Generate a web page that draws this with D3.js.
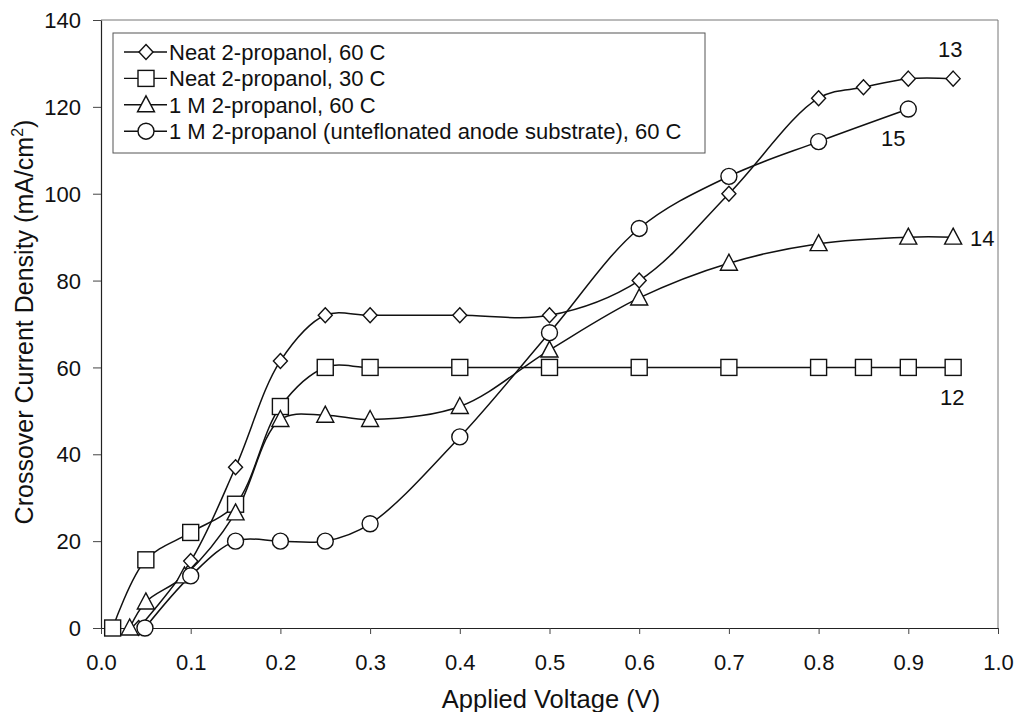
<!DOCTYPE html>
<html>
<head>
<meta charset="utf-8">
<script src="https://cdn.jsdelivr.net/npm/d3@7"></script>
<style>
  body { margin: 0; background: #fff; }
  svg { font-family: "Liberation Sans", Arial, sans-serif; }
</style>
</head>
<body>
<div id="chart"></div>
<script>
// series values
const neat60 = [[0.042, 0], [0.1, 15.4], [0.15, 37], [0.2, 61.5], [0.25, 72], [0.3, 72], [0.4, 72], [0.5, 72],
  [0.6, 80], [0.7, 100], [0.8, 122], [0.85, 124.5], [0.9, 126.5], [0.95, 126.5]];
const neat30 = [[0.013, 0], [0.05, 15.7], [0.1, 22], [0.15, 28.5], [0.2, 51], [0.25, 60], [0.3, 60], [0.4, 60],
  [0.5, 60], [0.6, 60], [0.7, 60], [0.8, 60], [0.85, 60], [0.9, 60], [0.95, 60]];
const oneM60 = [[0.032, 0], [0.05, 6], [0.093, 12], [0.15, 26.5], [0.2, 48], [0.25, 49], [0.3, 48], [0.4, 51],
  [0.5, 64], [0.6, 76], [0.7, 84], [0.8, 88.5], [0.9, 90], [0.95, 90]];
const unteflon = [[0.049, 0], [0.1, 12], [0.15, 20], [0.2, 20], [0.25, 20], [0.3, 24], [0.4, 44], [0.5, 68],
  [0.6, 92], [0.7, 104], [0.8, 112], [0.9, 119.5]];

const seriesNames = ["Neat 2-propanol, 60 C", "Neat 2-propanol, 30 C", "1 M 2-propanol, 60 C",
  "1 M 2-propanol (unteflonated anode substrate), 60 C"];
const seriesMarkers = ["diamond", "square", "triangle", "circle"];
const curveLabels = ["13", "12", "14", "15"];
const xTicks = [0, 0.1, 0.2, 0.3, 0.4, 0.5, 0.6, 0.7, 0.8, 0.9, 1.0];
const yTicks = [0, 20, 40, 60, 80, 100, 120, 140];

const series = [neat60, neat30, oneM60, unteflon];

const W = 1020, H = 712;
const plot = { l: 101, r: 998, t: 20, b: 628 };

const x = d3.scaleLinear().domain([0, 1]).range([plot.l, plot.r]);
const y = d3.scaleLinear().domain([0, 140]).range([plot.b, plot.t]);

const svg = d3.select("#chart").append("svg")
  .attr("width", W).attr("height", H);

// frame (top and right)
svg.append("path")
  .attr("d", `M${plot.l},${plot.t}H${plot.r}V${plot.b}`)
  .attr("fill", "none").attr("stroke", "#777").attr("stroke-width", 1);

// axes
const xAxis = d3.axisBottom(x).tickValues(xTicks).tickFormat(d3.format(".1f")).tickSize(6).tickSizeOuter(0);
const yAxis = d3.axisLeft(y).tickValues(yTicks).tickFormat(d3.format("d")).tickSize(8).tickSizeOuter(0);

const gx = svg.append("g").attr("transform", `translate(0,${plot.b})`).call(xAxis);
const gy = svg.append("g").attr("transform", `translate(${plot.l},0)`).call(yAxis);
[gx, gy].forEach(g => {
  g.select(".domain").attr("stroke", "#222").attr("stroke-width", 1.2);
  g.selectAll(".tick line").attr("stroke", "#444");
  g.selectAll(".tick text").attr("font-size", 22).attr("fill", "#111")
    .attr("font-family", "Liberation Sans, Arial, sans-serif");
});
gx.selectAll(".tick text").attr("y", 34).attr("dy", "0.35em");
gy.selectAll(".tick text").attr("x", -20).attr("dy", "0.35em");

// axis titles
svg.append("text")
  .attr("x", 551).attr("y", 708)
  .attr("text-anchor", "middle").attr("font-size", 25.5).attr("fill", "#111")
  .text("Applied Voltage (V)");

const yt = svg.append("text")
  .attr("transform", `translate(33,322) rotate(-90)`)
  .attr("text-anchor", "middle").attr("font-size", 25).attr("fill", "#111");
yt.append("tspan").text("Crossover Current Density (mA/cm");
yt.append("tspan").attr("font-size", 16).attr("dy", -10).text("2");
yt.append("tspan").attr("dy", 10).text(")");

// marker drawing
function drawMarker(g, type, cx, cy) {
  const s = 8;
  let el;
  if (type === "diamond") {
    el = g.append("path").attr("d", `M${cx},${cy - 7.5}L${cx + 7},${cy}L${cx},${cy + 7.5}L${cx - 7},${cy}Z`);
  } else if (type === "square") {
    el = g.append("rect").attr("x", cx - s).attr("y", cy - s).attr("width", 2 * s).attr("height", 2 * s);
  } else if (type === "triangle") {
    el = g.append("path").attr("d", `M${cx},${cy - 9}L${cx + 8.5},${cy + 7}L${cx - 8.5},${cy + 7}Z`);
  } else {
    el = g.append("circle").attr("cx", cx).attr("cy", cy).attr("r", 8);
  }
  el.attr("fill", "#fff").attr("stroke", "#111").attr("stroke-width", 1.4);
}

const line = d3.line()
  .x(d => x(d[0])).y(d => y(d[1]))
  .curve(d3.curveCatmullRom.alpha(0.5));

const gLines = svg.append("g");
series.forEach(s => {
  gLines.append("path").datum(s).attr("d", line)
    .attr("fill", "none").attr("stroke", "#111").attr("stroke-width", 1.5);
});
const gMarks = svg.append("g");
series.forEach((s, i) => {
  s.forEach(d => drawMarker(gMarks, seriesMarkers[i], x(d[0]), y(d[1])));
});

// curve numbers, placed relative to each series' last point
const labelOffset = [[-3, -29], [-1, 30], [29, 1], [-15, 29]];
series.forEach((s, i) => {
  const last = s[s.length - 1];
  svg.append("text")
    .attr("x", x(last[0]) + labelOffset[i][0])
    .attr("y", y(last[1]) + labelOffset[i][1])
    .attr("dy", "0.35em")
    .attr("text-anchor", "middle").attr("font-size", 22).attr("fill", "#111")
    .text(curveLabels[i]);
});

// legend
const lg = svg.append("g");
lg.append("rect").attr("x", 113).attr("y", 33).attr("width", 592).attr("height", 120)
  .attr("fill", "#fff").attr("stroke", "#555").attr("stroke-width", 1);
seriesNames.forEach((name, i) => {
  const ly = 52 + i * 26.4;
  lg.append("line").attr("x1", 124).attr("x2", 167).attr("y1", ly).attr("y2", ly)
    .attr("stroke", "#111").attr("stroke-width", 1.4);
  drawMarker(lg, seriesMarkers[i], 146, ly);
  lg.append("text").attr("x", 169).attr("y", ly).attr("dy", "0.36em")
    .attr("font-size", 22).attr("fill", "#111").text(name);
});
</script>
</body>
</html>
